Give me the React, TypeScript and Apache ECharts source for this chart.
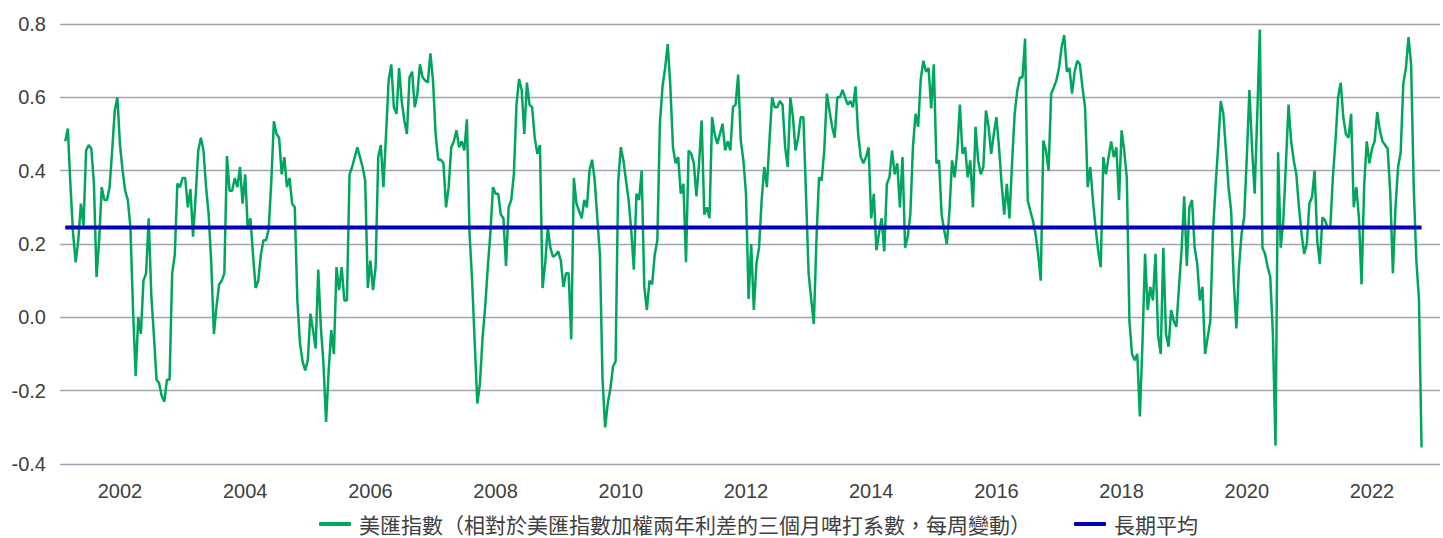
import React, { useEffect, useRef } from "react";
import * as echarts from "echarts";

// Semi-monthly readings of the weekly series (24 per year)
const FIRST_INDEX_2001 = 3; // series starts in February 2001
const v2001 = [0.48, 0.515, 0.36, 0.23, 0.15, 0.21, 0.31, 0.25, 0.455, 0.47, 0.46, 0.365, 0.11, 0.21, 0.355, 0.32, 0.32, 0.355, 0.455, 0.565, 0.6];
const v2002 = [0.47, 0.4, 0.345, 0.32, 0.245, 0.02, -0.16, 0.0, -0.045, 0.1, 0.12, 0.27, 0.06, -0.05, -0.17, -0.18, -0.215, -0.23, -0.17, -0.17, 0.12, 0.17, 0.365, 0.355];
const v2003 = [0.38, 0.38, 0.3, 0.35, 0.22, 0.33, 0.455, 0.49, 0.455, 0.355, 0.28, 0.145, -0.045, 0.03, 0.09, 0.1, 0.12, 0.44, 0.345, 0.345, 0.38, 0.355, 0.41, 0.31];
const v2004 = [0.39, 0.24, 0.27, 0.17, 0.08, 0.1, 0.17, 0.21, 0.21, 0.24, 0.37, 0.535, 0.5, 0.49, 0.39, 0.437, 0.355, 0.38, 0.31, 0.3, 0.046, -0.07, -0.12, -0.145];
const v2005 = [-0.117, 0.01, -0.035, -0.085, 0.13, -0.026, -0.126, -0.285, -0.145, -0.035, -0.1, 0.137, 0.074, 0.137, 0.046, 0.046, 0.39, 0.41, 0.437, 0.464, 0.437, 0.41, 0.373, 0.08];
const v2006 = [0.155, 0.074, 0.137, 0.437, 0.47, 0.355, 0.5, 0.646, 0.69, 0.573, 0.555, 0.68, 0.59, 0.537, 0.5, 0.655, 0.67, 0.573, 0.61, 0.69, 0.655, 0.646, 0.64, 0.72];
const v2007 = [0.646, 0.5, 0.43, 0.43, 0.42, 0.3, 0.355, 0.464, 0.48, 0.51, 0.464, 0.48, 0.455, 0.54, 0.23, 0.1, -0.07, -0.235, -0.18, -0.055, 0.028, 0.137, 0.23, 0.355];
const v2008 = [0.337, 0.337, 0.28, 0.27, 0.14, 0.3, 0.32, 0.39, 0.58, 0.65, 0.62, 0.5, 0.64, 0.58, 0.573, 0.49, 0.446, 0.47, 0.08, 0.146, 0.245, 0.19, 0.165, 0.17];
const v2009 = [0.18, 0.155, 0.083, 0.12, 0.12, -0.06, 0.38, 0.31, 0.29, 0.27, 0.32, 0.3, 0.4, 0.43, 0.373, 0.27, 0.17, -0.17, -0.3, -0.235, -0.195, -0.135, -0.12, 0.37];
const v2010 = [0.464, 0.428, 0.373, 0.32, 0.237, 0.13, 0.337, 0.32, 0.4, 0.083, 0.02, 0.1, 0.09, 0.17, 0.21, 0.53, 0.63, 0.68, 0.745, 0.63, 0.464, 0.42, 0.437, 0.337];
const v2011 = [0.364, 0.15, 0.455, 0.446, 0.42, 0.33, 0.42, 0.537, 0.28, 0.3, 0.27, 0.546, 0.5, 0.473, 0.5, 0.528, 0.455, 0.48, 0.455, 0.573, 0.58, 0.662, 0.482, 0.428];
const v2012 = [0.337, 0.05, 0.2, 0.02, 0.146, 0.19, 0.32, 0.41, 0.355, 0.482, 0.6, 0.573, 0.573, 0.59, 0.58, 0.464, 0.41, 0.6, 0.546, 0.455, 0.49, 0.546, 0.546, 0.337];
const v2013 = [0.12, 0.05, -0.018, 0.21, 0.382, 0.373, 0.455, 0.61, 0.564, 0.52, 0.49, 0.6, 0.6, 0.62, 0.6, 0.58, 0.59, 0.573, 0.63, 0.5, 0.437, 0.42, 0.437, 0.464];
const v2014 = [0.27, 0.337, 0.183, 0.23, 0.27, 0.18, 0.364, 0.382, 0.455, 0.39, 0.42, 0.3, 0.437, 0.19, 0.22, 0.28, 0.464, 0.555, 0.52, 0.65, 0.7, 0.67, 0.68, 0.57];
const v2015 = [0.69, 0.42, 0.428, 0.28, 0.237, 0.2, 0.29, 0.428, 0.382, 0.455, 0.58, 0.446, 0.464, 0.382, 0.428, 0.3, 0.52, 0.428, 0.39, 0.41, 0.564, 0.52, 0.446, 0.5];
const v2016 = [0.546, 0.464, 0.364, 0.28, 0.364, 0.27, 0.42, 0.555, 0.618, 0.654, 0.654, 0.76, 0.32, 0.29, 0.264, 0.228, 0.173, 0.1, 0.482, 0.455, 0.4, 0.61, 0.627, 0.646];
const v2017 = [0.68, 0.737, 0.77, 0.67, 0.68, 0.61, 0.67, 0.7, 0.69, 0.627, 0.573, 0.355, 0.41, 0.32, 0.246, 0.183, 0.137, 0.437, 0.39, 0.437, 0.48, 0.437, 0.464, 0.32];
const v2018 = [0.51, 0.455, 0.38, -0.01, -0.1, -0.117, -0.1, -0.27, -0.07, 0.173, 0.02, 0.083, 0.046, 0.173, -0.05, -0.1, 0.19, -0.045, -0.08, 0.02, -0.01, -0.026, 0.083, 0.183];
const v2019 = [0.33, 0.14, 0.3, 0.32, 0.19, 0.146, 0.046, 0.083, -0.1, -0.055, -0.01, 0.228, 0.355, 0.464, 0.59, 0.555, 0.455, 0.355, 0.29, 0.1, -0.03, 0.137, 0.228, 0.273];
const v2020 = [0.437, 0.62, 0.464, 0.337, 0.55, 0.785, 0.19, 0.173, 0.137, 0.11, -0.045, -0.35, 0.45, 0.19, 0.264, 0.42, 0.58, 0.48, 0.428, 0.39, 0.3, 0.228, 0.173, 0.2];
const v2021 = [0.31, 0.328, 0.4, 0.21, 0.146, 0.273, 0.264, 0.245, 0.245, 0.382, 0.482, 0.6, 0.64, 0.546, 0.5, 0.49, 0.555, 0.3, 0.355, 0.27, 0.09, 0.36, 0.48, 0.42];
const v2022 = [0.46, 0.48, 0.56, 0.51, 0.48, 0.47, 0.46, 0.34, 0.12, 0.3, 0.41, 0.45, 0.637, 0.68, 0.764, 0.69, 0.355, 0.155, 0.05, -0.355];

const LONG_TERM_AVG = 0.245;

const YEAR_LABELS = [2002, 2004, 2006, 2008, 2010, 2012, 2014, 2016, 2018, 2020, 2022];
const Y_MIN = -0.4;
const Y_MAX = 0.8;
const Y_STEP = 0.2;

const SERIES_NAME = "美匯指數（相對於美匯指數加權兩年利差的三個月啤打系數，每周變動）";
const AVG_NAME = "長期平均";

const YEARS: [number, number, number[]][] = [
  [2001, FIRST_INDEX_2001, v2001],
  [2002, 0, v2002],
  [2003, 0, v2003],
  [2004, 0, v2004],
  [2005, 0, v2005],
  [2006, 0, v2006],
  [2007, 0, v2007],
  [2008, 0, v2008],
  [2009, 0, v2009],
  [2010, 0, v2010],
  [2011, 0, v2011],
  [2012, 0, v2012],
  [2013, 0, v2013],
  [2014, 0, v2014],
  [2015, 0, v2015],
  [2016, 0, v2016],
  [2017, 0, v2017],
  [2018, 0, v2018],
  [2019, 0, v2019],
  [2020, 0, v2020],
  [2021, 0, v2021],
  [2022, 0, v2022],
];

function buildSeries(): [number, number][] {
  const out: [number, number][] = [];
  YEARS.forEach(([year, start, vals]) => {
    vals.forEach((v, k) => {
      out.push([year + (start + k) / 24, v]);
    });
  });
  return out;
}

export default function App() {
  const ref = useRef<HTMLDivElement>(null);

  useEffect(() => {
    if (!ref.current) return;
    const chart = echarts.init(ref.current, null, { renderer: "svg" });
    const points = buildSeries();
    const xFirst = points[0][0];
    const xLast = points[points.length - 1][0];
    const axisFont = '"Liberation Sans", Arial, Helvetica, sans-serif';

    chart.setOption({
      animation: false,
      backgroundColor: "#ffffff",
      grid: { left: 60, right: 3, top: 24, bottom: 74, containLabel: false },
      xAxis: {
        type: "value",
        min: 2001.0415,
        max: 2023.0863,
        axisLine: { show: false },
        axisTick: { show: false },
        splitLine: { show: false },
        axisLabel: {
          customValues: YEAR_LABELS,
          formatter: (v: number) => String(Math.round(v)),
          fontSize: 20,
          fontFamily: axisFont,
          color: "#404040",
          margin: 17,
        },
      },
      yAxis: {
        type: "value",
        min: Y_MIN,
        max: Y_MAX,
        interval: Y_STEP,
        axisLine: { show: false },
        axisTick: { show: false },
        axisLabel: {
          formatter: (v: number) => (Math.abs(v) < 1e-9 ? "0.0" : v.toFixed(1)),
          fontSize: 20,
          fontFamily: axisFont,
          color: "#404040",
          margin: 14,
        },
        splitLine: { show: true, lineStyle: { color: "#A2A2B2", width: 1.3 } },
      },
      legend: {
        left: 314,
        top: 507,
        itemWidth: 32,
        itemHeight: 4,
        itemGap: 43,
        icon: "roundRect",
        textStyle: {
          fontSize: 21,
          lineHeight: 24,
          fontFamily: '"Noto Sans CJK TC", "Noto Sans CJK SC", sans-serif',
          color: "#404040",
          padding: [0, 0, 0, 3],
        },
        data: [SERIES_NAME, AVG_NAME],
      },
      series: [
        {
          name: SERIES_NAME,
          type: "line",
          data: points,
          symbol: "none",
          color: "#00A65D",
          lineStyle: { color: "#00A65D", width: 2.5 },
          z: 2,
        },
        {
          name: AVG_NAME,
          type: "line",
          data: [
            [xFirst, LONG_TERM_AVG],
            [xLast, LONG_TERM_AVG],
          ],
          symbol: "none",
          color: "#0000B4",
          lineStyle: { color: "#0000B4", width: 4 },
          z: 3,
        },
      ],
    });

    return () => chart.dispose();
  }, []);

  return (
    <div
      ref={ref}
      style={{ position: "fixed", left: 0, top: 0, width: 1443, height: 538, background: "#fff" }}
    />
  );
}
